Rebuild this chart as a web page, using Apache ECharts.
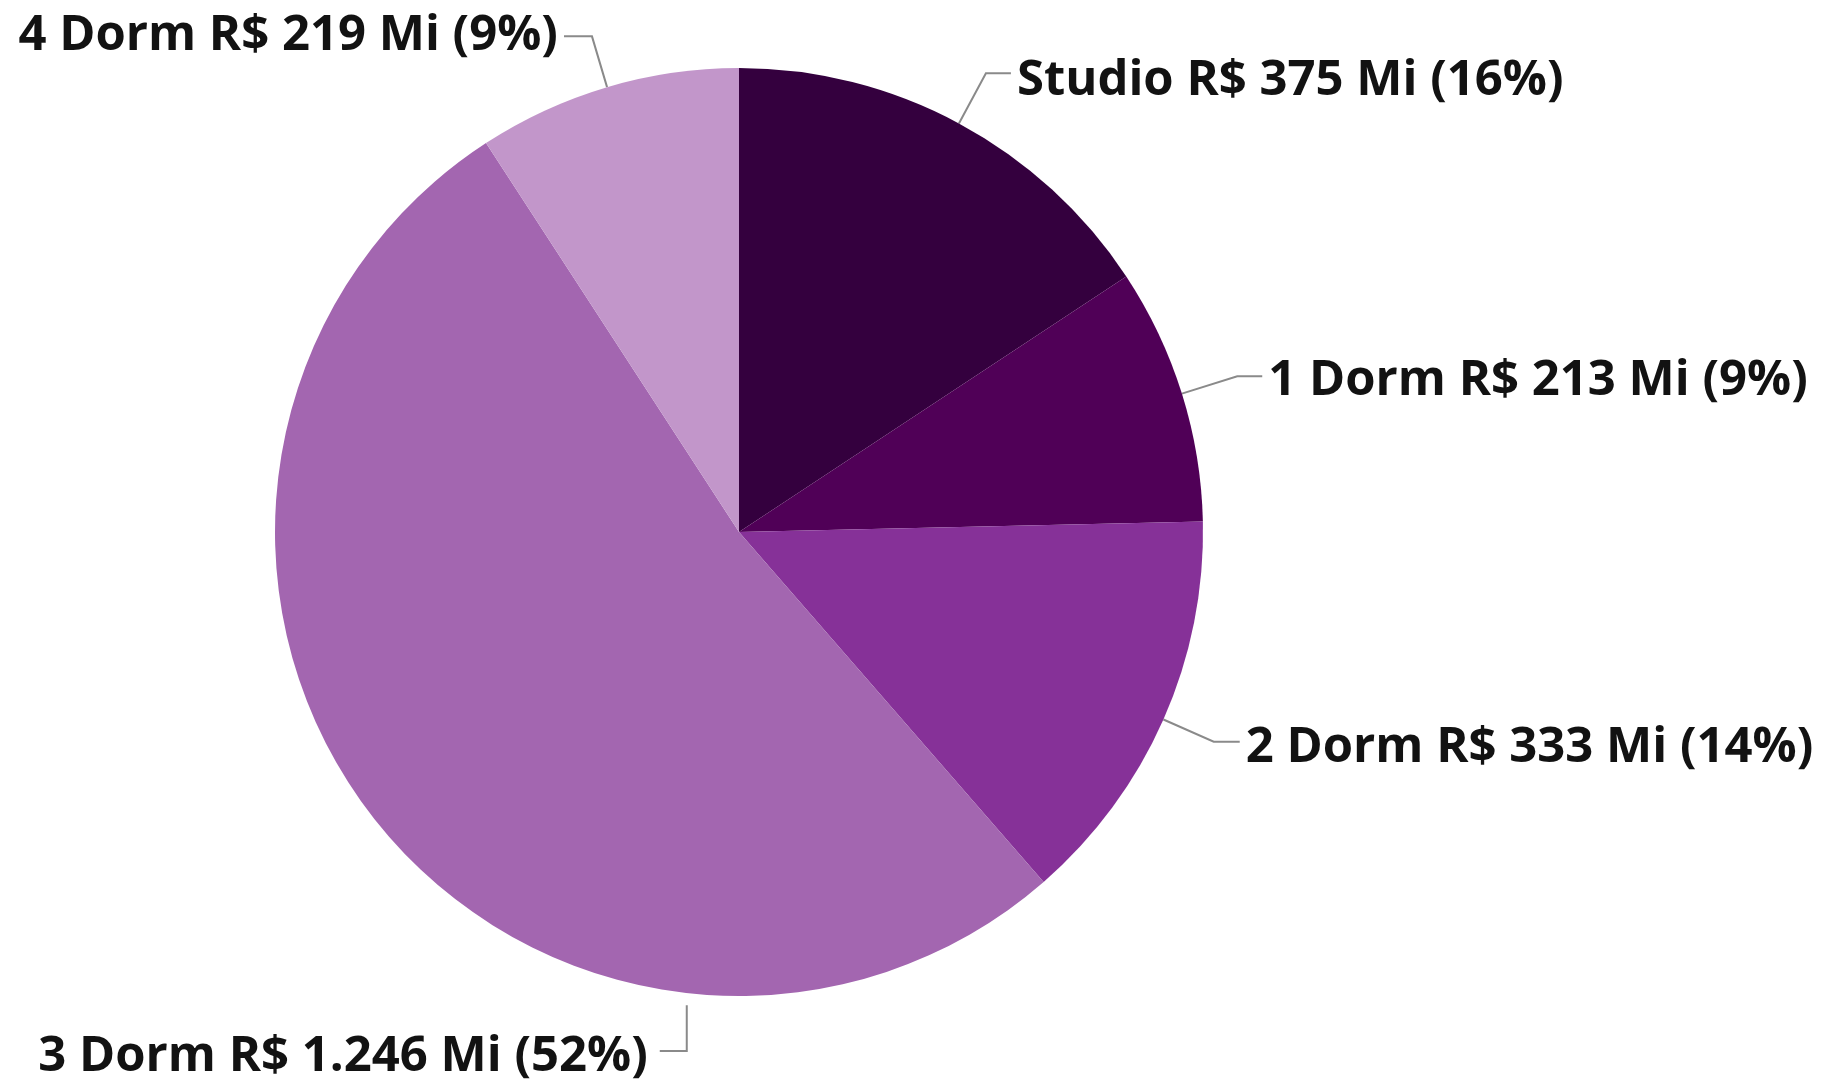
<!DOCTYPE html>
<html>
<head>
<meta charset="utf-8">
<script src="https://cdn.jsdelivr.net/npm/echarts@6/dist/echarts.min.js"></script>
<style>
html,body{margin:0;padding:0;background:#fff;}
#chart{width:1825px;height:1080px;}
</style>
</head>
<body>
<div id="chart"></div>
<script>
const categories = ['Studio', '1 Dorm', '2 Dorm', '3 Dorm', '4 Dorm'];
const values = [375, 213, 333, 1246, 219];
const colors = ['#34003e', '#500057', '#863198', '#a366b0', '#c296ca'];

const PIE_CX = 739, PIE_CY = 532, PIE_R = 464;
const lineLen = [57, 58, 55, 59, 53];
const lineLen2 = [25, 25, 26, 22, 28];
const labelDy = [8, 5, 6, 6, 0];

function fmtThousands(v) {
  return String(v).replace(/\B(?=(\d{3})+(?!\d))/g, '.');
}

const chart = echarts.init(document.getElementById('chart'), null, {renderer: 'canvas'});

const data = categories.map((c, i) => ({
  name: c,
  value: values[i],
  itemStyle: {color: colors[i]},
  labelLine: {length: lineLen[i], length2: lineLen2[i]}
}));

chart.setOption({
  animation: false,
  backgroundColor: '#ffffff',
  series: [{
    type: 'pie',
    center: [PIE_CX, PIE_CY],
    radius: PIE_R,
    startAngle: 90,
    clockwise: true,
    avoidLabelOverlap: false,
    data: data,
    itemStyle: {borderWidth: 0},
    emphasis: {disabled: true},
    label: {
      show: true,
      position: 'outside',
      overflow: 'none',
      color: '#121212',
      fontFamily: 'Open Sans',
      fontWeight: 'bold',
      fontSize: 49,
      distanceToLabelLine: 6,
      formatter: p => p.name + ' R$ ' + fmtThousands(p.value) + ' Mi (' + Math.round(p.percent) + '%)'
    },
    labelLine: {
      show: true,
      smooth: false,
      lineStyle: {color: '#8a8a8a', width: 2}
    },
    labelLayout: function (p) {
      if (p.dataIndex !== 3) return {dy: labelDy[p.dataIndex]};
      const a = 186.3 * Math.PI / 180;
      const r0 = PIE_R + 12;
      const sx = PIE_CX + r0 * Math.sin(a);
      const sy = PIE_CY - r0 * Math.cos(a);
      const ey = PIE_CY + PIE_R + 55;
      const ex = sx - 27;
      return {
        x: ex - 12,
        y: ey + labelDy[3],
        align: 'right',
        verticalAlign: 'middle',
        labelLinePoints: [[sx, sy], [sx, ey], [ex, ey]]
      };
    }
  }]
});
</script>
</body>
</html>
